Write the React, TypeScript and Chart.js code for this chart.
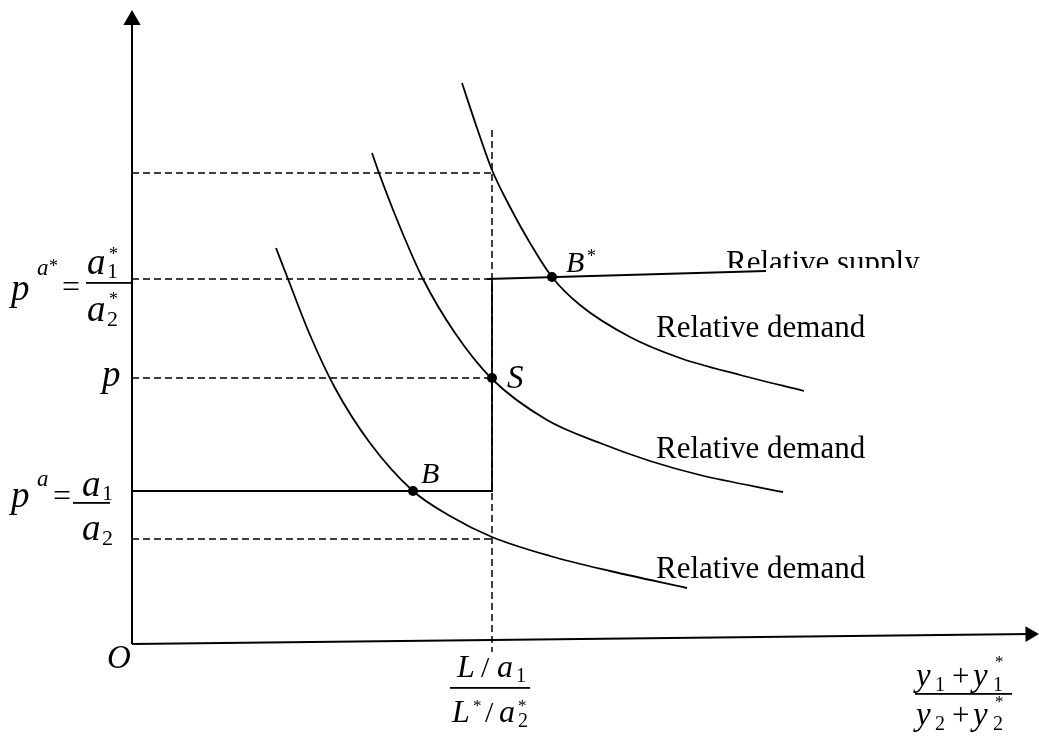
import React, { useEffect, useRef } from "react";
import { Chart, registerables } from "chart.js";
Chart.register(...registerables);

// Chart units: quantity measured right from the origin O, price measured up from O.
const demandLowQ = [144, 156, 178, 203, 238, 281, 318, 360, 418, 478, 555];
const demandLowP = [396, 365, 309, 256, 201, 153, 128, 107, 88, 73, 56];
const demandMidQ = [240, 247, 268, 291, 323, 360, 415, 468, 518, 568, 651];
const demandMidP = [491, 471, 417, 365, 311, 265, 224, 201, 183, 169, 152];
const demandHighQ = [330, 345, 360, 378, 398, 420, 448, 498, 548, 608, 672];
const demandHighP = [561, 516, 474, 437, 401, 367, 339, 307, 286, 269, 253];
const supplyQ = [355, 634];
const supplyP = [365, 373];
const tradeQ = 360; // L/a1 over L*/a2*
const priceTop = 471;
const priceAStar = 365; // p^{a*}
const priceP = 266; // p
const priceA = 153; // p^a
const priceLow = 105;
const pointsQ = [281, 360, 420]; // B, S, B*
const pointsP = [153, 266, 367];
const yAxisTop = 634;
const xAxisEnd = [898, 10];
const verticalTop = 514;
const verticalBottom = -8;

const FONT = '"Liberation Serif", "Times New Roman", serif';

const labelsPlugin = {
  id: "mathLabels",
  afterDatasetsDraw(chart: any) {
    const ctx = chart.ctx as CanvasRenderingContext2D;
    const ox = chart.chartArea.left;
    const oy = chart.chartArea.top;
    ctx.save();
    ctx.fillStyle = "#000";
    ctx.textBaseline = "alphabetic";
    ctx.textAlign = "left";
    const T = (s: string, x: number, y: number, size: number, italic = false) => {
      ctx.font = `${italic ? "italic " : ""}${size}px ${FONT}`;
      ctx.fillText(s, ox + x, oy + y);
    };
    const bar = (x: number, y: number, w: number) => ctx.fillRect(ox + x, oy + y, w, 1.8);

    // O
    T("O", 107, 668, 33, true);
    // p^{a*} = a1*/a2*
    T("p", 11, 300, 37, true);
    T("a", 37, 275, 23, true);
    T("*", 49, 272, 18);
    T("=", 62, 297, 32);
    T("a", 87, 274, 37, true);
    T("1", 107, 278, 22);
    T("*", 109, 260, 18);
    bar(86, 282, 45);
    T("a", 87, 321, 37, true);
    T("2", 107, 326, 22);
    T("*", 109, 305, 18);
    // p
    T("p", 102, 386, 37, true);
    // p^a = a1/a2
    T("p", 11, 507, 37, true);
    T("a", 37, 486, 23, true);
    T("=", 53, 506, 32);
    T("a", 82, 496, 37, true);
    T("1", 102, 500, 22);
    bar(73, 502, 37);
    T("a", 82, 540, 37, true);
    T("2", 102, 545, 22);
    // L/a1 over L*/a2*
    T("L", 457, 677, 32, true);
    T("/", 481, 677, 30);
    T("a", 497, 677, 32, true);
    T("1", 516, 682, 20);
    bar(450, 687, 80);
    T("L", 452, 722, 32, true);
    T("*", 473, 711, 17);
    T("/", 485, 722, 30);
    T("a", 499, 722, 32, true);
    T("2", 518, 727, 20);
    T("*", 518, 711, 17);
    // (y1+y1*)/(y2+y2*)
    T("y", 916, 686, 33, true);
    T("1", 935, 691, 20);
    T("+", 952, 686, 31);
    T("y", 973, 686, 33, true);
    T("1", 993, 691, 20);
    T("*", 995, 667, 17);
    bar(915, 693, 97);
    T("y", 916, 725, 33, true);
    T("2", 935, 730, 20);
    T("+", 952, 725, 31);
    T("y", 973, 725, 33, true);
    T("2", 993, 730, 20);
    T("*", 995, 707, 17);
    // point labels
    T("B", 421, 483, 30, true);
    T("S", 507, 388, 33, true);
    T("B", 566, 272, 30, true);
    T("*", 587, 262, 18);
    // curve labels
    T("Relative demand", 656, 337, 31);
    T("Relative demand", 656, 458, 31);
    T("Relative demand", 656, 578, 31);
    ctx.save();
    ctx.beginPath();
    ctx.rect(ox + 700, oy + 235, 300, 33);
    ctx.clip();
    T("Relative supply", 726, 272, 31);
    ctx.restore();
    ctx.restore();
  },
};

function pts(xs: number[], ys: number[]) {
  return xs.map((x, i) => ({ x, y: ys[i] }));
}

export default function App() {
  const ref = useRef<HTMLCanvasElement>(null);
  useEffect(() => {
    if (!ref.current) return;
    const solid = (data: any[], extra: any = {}) => ({
      data,
      borderColor: "#000",
      borderWidth: 1.8,
      pointRadius: 0,
      fill: false,
      clip: false,
      ...extra,
    });
    const dashed = (data: any[]) => solid(data, { borderDash: [7, 4], borderWidth: 1.5 });
    const chart = new Chart(ref.current, {
      type: "line",
      data: {
        datasets: [
          dashed([{ x: 0, y: priceTop }, { x: tradeQ, y: priceTop }]),
          dashed([{ x: 0, y: priceAStar }, { x: tradeQ, y: priceAStar }]),
          dashed([{ x: 0, y: priceP }, { x: tradeQ, y: priceP }]),
          dashed([{ x: 0, y: priceLow }, { x: tradeQ, y: priceLow }]),
          dashed([{ x: tradeQ, y: verticalTop }, { x: tradeQ, y: verticalBottom }]),
          solid([{ x: 0, y: priceA }, { x: tradeQ, y: priceA }, { x: tradeQ, y: priceAStar }]),
          solid(pts(supplyQ, supplyP)),
          solid(pts(demandLowQ, demandLowP), { cubicInterpolationMode: "monotone" }),
          solid(pts(demandMidQ, demandMidP), { cubicInterpolationMode: "monotone" }),
          solid(pts(demandHighQ, demandHighP), { cubicInterpolationMode: "monotone" }),
          solid([{ x: 0, y: 0 }, { x: 0, y: yAxisTop - 8 }], { borderWidth: 2 }),
          solid([{ x: 0, y: 0 }, { x: xAxisEnd[0], y: xAxisEnd[1] }], { borderWidth: 2 }),
          {
            type: "scatter",
            data: [{ x: 0, y: yAxisTop - 10 }],
            pointStyle: "triangle",
            pointRadius: 10,
            pointBackgroundColor: "#000",
            pointBorderColor: "#000",
            pointBorderWidth: 0,
            clip: false,
          },
          {
            type: "scatter",
            data: [{ x: xAxisEnd[0], y: xAxisEnd[1] - 0.1 }],
            pointStyle: "triangle",
            pointRadius: 9,
            pointRotation: 89.4,
            pointBackgroundColor: "#000",
            pointBorderColor: "#000",
            pointBorderWidth: 0,
            clip: false,
          },
          {
            type: "scatter",
            data: pts(pointsQ, pointsP),
            pointRadius: 5,
            pointBackgroundColor: "#000",
            pointBorderColor: "#000",
            pointBorderWidth: 0,
            clip: false,
          },
        ] as any,
      },
      options: {
        animation: false,
        responsive: false,
        devicePixelRatio: 1,
        layout: { padding: 0, autoPadding: false },
        plugins: { legend: { display: false }, tooltip: { enabled: false }, title: { display: false } },
        events: [],
        scales: {
          x: { type: "linear", min: -132, max: 907, display: false },
          y: { type: "linear", min: -94, max: 644, display: false },
        },
      },
      plugins: [labelsPlugin],
    });
    return () => chart.destroy();
  }, []);
  return (
    <div style={{ position: "absolute", left: 0, top: 0, width: 1039, height: 738, background: "#fff" }}>
      <canvas ref={ref} width={1039} height={738} style={{ width: 1039, height: 738, display: "block" }} />
    </div>
  );
}
